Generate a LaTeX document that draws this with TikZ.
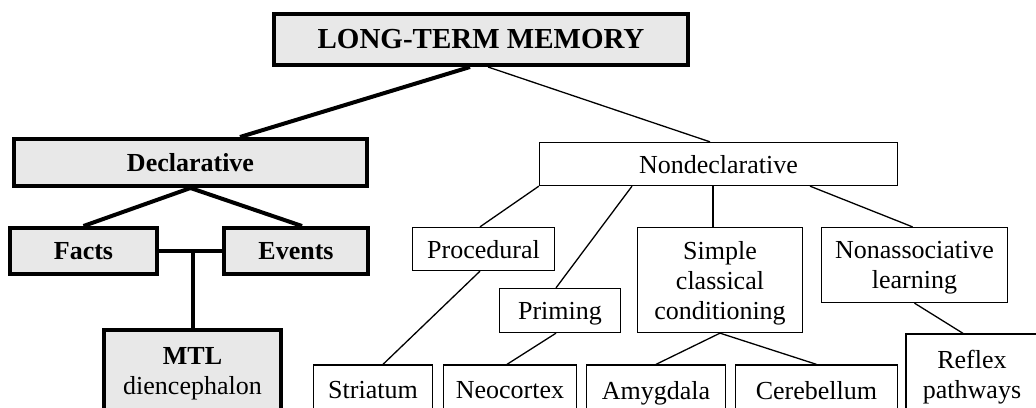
\documentclass[tikz,border=0pt]{standalone}
\usepackage{fontspec}
\setmainfont{Liberation Serif}
\definecolor{boxgray}{RGB}{232,232,232}
\begin{document}
\begin{tikzpicture}[x=1pt,y=-1pt,
  thickbox/.style={draw, line width=4pt, fill=boxgray, font=\fontsize{26}{30}\selectfont\bfseries, align=center},
  thinbox/.style={draw, line width=1.3pt, fill=white, font=\fontsize{26}{30}\selectfont, align=center, text depth=0pt},
  thickline/.style={line width=4pt},
  thinline/.style={line width=1.3pt}]
  \useasboundingbox (0,0) rectangle (1036,407);
  \clip (0,0) rectangle (1036,407);
  % declarative side
  \node[thickbox, minimum width=414, minimum height=51, font=\fontsize{29}{32}\selectfont\bfseries] (ltm) at (481,39.5) {LONG-TERM MEMORY};
  \node[thickbox, minimum width=353, minimum height=47] (decl) at (190.5,162.5) {Declarative};
  \node[thickbox, minimum width=147, minimum height=46] (facts) at (83.5,251) {Facts};
  \node[thickbox, minimum width=144, minimum height=46] (events) at (296,251) {Events};
  \node[thickbox, minimum width=177, minimum height=88] (mtl) at (192.5,374) {MTL\\\mdseries diencephalon};
  % nondeclarative side
  \node[thinbox, minimum width=358, minimum height=43] (nondecl) at (718.5,164) {Nondeclarative};
  \node[thinbox, minimum width=142, minimum height=43] (proc) at (483.5,249) {Procedural};
  \node[thinbox, minimum width=121, minimum height=44] (priming) at (560,310.5) {Priming};
  \node[thinbox, minimum width=165, minimum height=105] (simple) at (720,280) {Simple\\classical\\conditioning};
  \node[thinbox, minimum width=186, minimum height=75] (nonassoc) at (914.5,265) {Nonassociative\\learning};
  \node[thinbox, minimum width=119, minimum height=50] (striatum) at (373,390) {Striatum};
  \node[thinbox, minimum width=133, minimum height=50] (neocortex) at (510,390) {Neocortex};
  \node[thinbox, minimum width=139, minimum height=50] (amygdala) at (656,390) {Amygdala};
  \node[thinbox, minimum width=162, minimum height=50] (cerebellum) at (816.5,390) {Cerebellum};
  \node[thinbox, minimum width=132, minimum height=80] (reflex) at (972,374) {Reflex\\pathways};
  % connectors
  \draw[thickline] ([xshift=-11]ltm.south) -- ([xshift=49.5]decl.north);
  \draw[thinline] ([xshift=7]ltm.south) -- ([xshift=-8.5]nondecl.north);
  \draw[thickline] (decl.south) -- (facts.north);
  \draw[thickline] (decl.south) -- ([xshift=6]events.north);
  \draw[thickline] (facts.east) -- (events.west);
  \draw[thickline] (mtl.north) -- (mtl.north |- facts.east);
  \draw[thinline] (nondecl.south west) -- ([xshift=-3.5]proc.north);
  \draw[thinline] ([xshift=-86.5]nondecl.south) -- ([xshift=-4]priming.north);
  \draw[thinline] ([xshift=-7]simple.north) -- ([xshift=-7]simple.north |- nondecl.south);
  \draw[thinline] ([xshift=91.5]nondecl.south) -- ([xshift=-2]nonassoc.north);
  \draw[thinline] ([xshift=-3.5]proc.south) -- ([xshift=10]striatum.north);
  \draw[thinline] ([xshift=-4]priming.south) -- ([xshift=-3]neocortex.north);
  \draw[thinline] (simple.south) -- (amygdala.north);
  \draw[thinline] (simple.south) -- (cerebellum.north);
  \draw[thinline] (nonassoc.south) -- ([xshift=-9]reflex.north);
\end{tikzpicture}
\end{document}
